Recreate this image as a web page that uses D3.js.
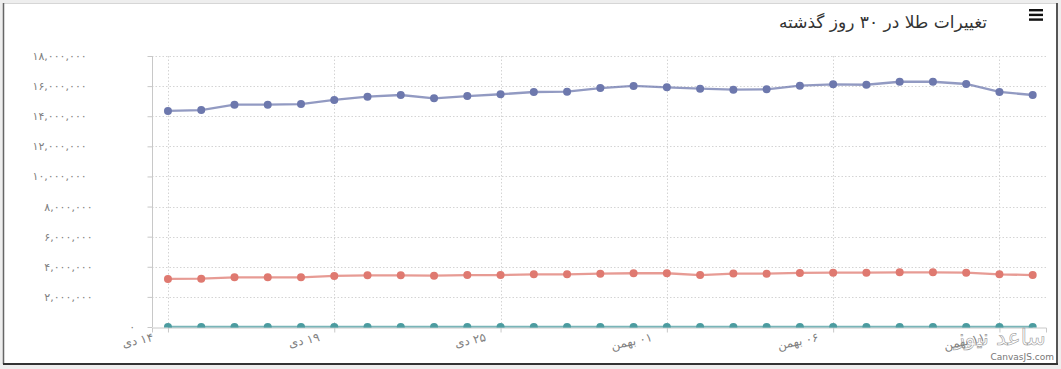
<!DOCTYPE html>
<html>
<head>
<meta charset="utf-8">
<script src="https://cdn.jsdelivr.net/npm/d3@7"></script>
<style>
    body { margin: 0; background: #eeeeee; }
    svg { display: block; }
    text { font-family: "DejaVu Sans", "Noto Sans", sans-serif; }
</style>
</head>
<body>
<div id="chart"></div>
<script>
// == DATA == //
const titleText = "تغییرات طلا در ۳۰ روز گذشته";
const pointIndex = d3.range(27);
const coinValues = [14350000, 14410000, 14770000, 14770000, 14810000, 15080000, 15300000, 15410000, 15190000,
    15340000, 15460000, 15610000, 15630000, 15870000, 16010000, 15920000, 15830000, 15760000,
    15790000, 16030000, 16120000, 16090000, 16290000, 16290000, 16140000, 15610000, 15410000];
const goldValues = [3190000, 3210000, 3300000, 3300000, 3300000, 3390000, 3430000, 3430000, 3410000,
    3450000, 3450000, 3500000, 3500000, 3540000, 3570000, 3570000, 3450000, 3550000,
    3540000, 3590000, 3610000, 3610000, 3630000, 3630000, 3610000, 3500000, 3450000];
const ounceValues = [1850, 1846, 1842, 1848, 1855, 1861, 1858, 1864, 1870, 1866, 1859, 1855, 1851, 1858,
    1862, 1868, 1871, 1866, 1860, 1855, 1852, 1858, 1863, 1860, 1857, 1851, 1848];
const seriesColors = ['#6D78AD', '#DF7970', '#4C9CA0'];
const tickIdx = [0, 5, 10, 15, 20, 25];
const tickLabels = ["۱۴ دی", "۱۹ دی", "۲۵ دی", "۰۱ بهمن", "۰۶ بهمن", "۱۱ بهمن"];
const yTicks = d3.range(0, 18000001, 2000000);

class LineVis {

    constructor(parentElement) {
        this.parentElement = parentElement;
        this.series = [coinValues, goldValues, ounceValues];
        this.initVis();
    }

    initVis() {
        let vis = this;
        vis.width = 1061;
        vis.height = 369;

        vis.svg = d3.select("#" + vis.parentElement).append("svg")
            .attr("width", vis.width)
            .attr("height", vis.height);

        // == FRAME == //
        vis.svg.append("rect")
            .attr("x", 3).attr("y", 3)
            .attr("width", 1054).attr("height", 361)
            .attr("fill", "#fff");
        vis.svg.append("line").attr("x1", 3).attr("x2", 1057).attr("y1", 3.5).attr("y2", 3.5)
            .attr("stroke", "#d6d6d6");
        vis.svg.append("line").attr("x1", 3.5).attr("x2", 3.5).attr("y1", 3).attr("y2", 364)
            .attr("stroke", "#666").attr("stroke-width", 1.5);
        vis.svg.append("line").attr("x1", 1057).attr("x2", 1057).attr("y1", 3).attr("y2", 364)
            .attr("stroke", "#555").attr("stroke-width", 2);
        vis.svg.append("line").attr("x1", 3).attr("x2", 1058).attr("y1", 364).attr("y2", 364)
            .attr("stroke", "#333").attr("stroke-width", 2);

        // scales
        vis.x = d3.scaleLinear().domain([-0.48, 26.4]).range([152, 1046]);
        vis.y = d3.scaleLinear().domain([0, 18000000]).range([327, 56]);

        vis.toFa = s => String(s).replace(/[0-9]/g, c => '۰۱۲۳۴۵۶۷۸۹'[+c]);

        // plot clip (markers on the zero line are cut in half)
        vis.svg.append("clipPath").attr("id", "plotClip")
            .append("rect")
            .attr("x", 140).attr("y", 40)
            .attr("width", 915).attr("height", vis.y(0) + 0.5 - 40);

        // == TITLE == //
        vis.svg.append("text")
            .attr("x", 883).attr("y", 28)
            .attr("text-anchor", "middle")
            .attr("font-size", "17px")
            .attr("fill", "#333")
            .text(titleText);

        // menu icon
        vis.svg.append("g").selectAll("rect")
            .data([0, 1, 2]).enter().append("rect")
            .attr("x", 1029).attr("y", d => 9 + d * 4.7)
            .attr("width", 14).attr("height", 2.4)
            .attr("fill", "#111");

        vis.updateVis();
    }

    updateVis() {
        let vis = this;
        let [x0, x1] = vis.x.range();

        // grid lines
        vis.svg.append("g").selectAll("line")
            .data(yTicks.slice(1)).enter().append("line")
            .attr("x1", x0).attr("x2", x1)
            .attr("y1", d => Math.round(vis.y(d)) + 0.5).attr("y2", d => Math.round(vis.y(d)) + 0.5)
            .attr("stroke", "#d4d4d4").attr("stroke-dasharray", "1.5,2");
        vis.svg.append("g").selectAll("line")
            .data(tickIdx).enter().append("line")
            .attr("x1", d => Math.round(vis.x(d)) + 0.5).attr("x2", d => Math.round(vis.x(d)) + 0.5)
            .attr("y1", vis.y(18000000)).attr("y2", vis.y(0))
            .attr("stroke", "#d4d4d4").attr("stroke-dasharray", "1.5,2");

        // y axis
        let yAxis = vis.svg.append("g")
            .attr("transform", "translate(152.5,0)")
            .call(d3.axisLeft(vis.y).tickValues(yTicks).tickSize(5).tickFormat(""));
        yAxis.selectAll("line, path").attr("stroke", "#c8c8c8");
        yAxis.select(".domain").attr("d", `M0,${vis.y(18000000)}V${vis.y(0)}`);

        // y labels (right edge pulled in by the label width, as in the original)
        vis.svg.append("g").selectAll("text")
            .data(yTicks).enter().append("text")
            .attr("y", d => vis.y(d) + 4)
            .attr("font-size", "11px")
            .attr("fill", "#808080")
            .attr("text-anchor", "end")
            .text(d => vis.toFa(d3.format(",")(d)))
            .attr("x", function () { return 141 - this.getComputedTextLength(); });

        // x axis
        let xAxis = vis.svg.append("g")
            .attr("transform", `translate(0,${vis.y(0) + 0.5})`)
            .call(d3.axisBottom(vis.x).tickValues(tickIdx).tickSize(5).tickFormat(""));
        xAxis.selectAll("line, path").attr("stroke", "#c8c8c8");

        vis.svg.append("g").selectAll("text")
            .data(tickIdx).enter().append("text")
            .attr("transform", d => `translate(${vis.x(d) - 14},341) rotate(-12)`)
            .attr("text-anchor", "end")
            .attr("font-size", "12px")
            .attr("fill", "#808080")
            .text((d, i) => "\u202B" + tickLabels[i] + "\u202C");

        // == LINES == //
        let line = d3.line()
            .x((d, i) => vis.x(pointIndex[i]))
            .y(d => vis.y(d));

        let plot = vis.svg.append("g").attr("clip-path", "url(#plotClip)");

        vis.series.forEach((values, s) => {
            plot.append("path")
                .datum(values)
                .attr("d", line)
                .attr("fill", "none")
                .attr("stroke", seriesColors[s])
                .attr("stroke-opacity", 0.75)
                .attr("stroke-width", 2.3);

            plot.append("g").selectAll("circle")
                .data(values).enter().append("circle")
                .attr("cx", (d, i) => vis.x(pointIndex[i]))
                .attr("cy", d => vis.y(d))
                .attr("r", 4)
                .attr("fill", seriesColors[s]);
        });

        // watermark
        vis.svg.append("text")
            .attr("x", 1000).attr("y", 345)
            .attr("text-anchor", "middle")
            .attr("font-size", "22px")
            .attr("fill", "none")
            .attr("stroke", "#9a9a9a").attr("stroke-width", 0.6)
            .text("ساعد نیوز");
        vis.svg.append("text")
            .attr("x", 1054).attr("y", 360)
            .attr("text-anchor", "end")
            .attr("font-size", "9px")
            .attr("fill", "#777")
            .text("CanvasJS.com");
    }
}

new LineVis("chart");
</script>
</body>
</html>
